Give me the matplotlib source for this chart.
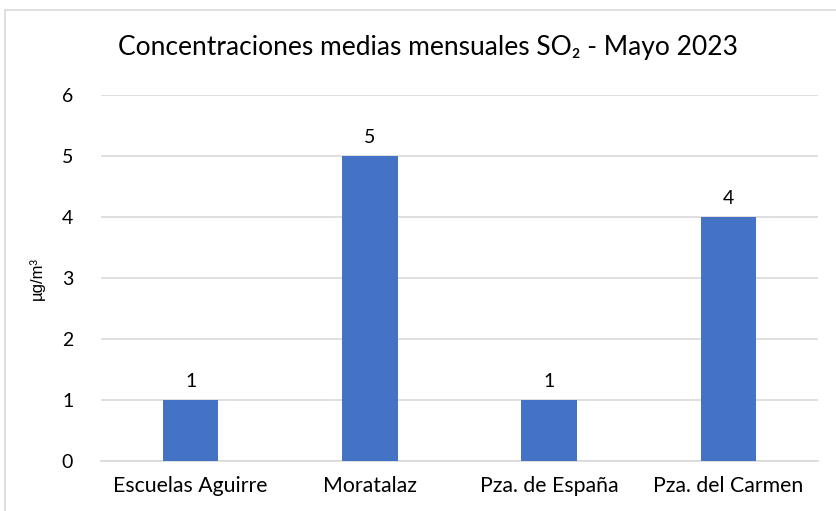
import matplotlib
matplotlib.use("Agg")
import matplotlib.pyplot as plt
from matplotlib.patches import Rectangle
import numpy as np

stations = ["Escuelas Aguirre", "Moratalaz", "Pza. de España", "Pza. del Carmen"]
so2_values = [1, 5, 1, 4]
y_ticks = [0, 1, 2, 3, 4, 5, 6]

BAR_COLOR = "#4472C4"
GRID_COLOR = "#D9D9D9"
TEXT_COLOR = "#000000"
FONT = ["Lato", "DejaVu Sans"]

fig = plt.figure(figsize=(8.36, 5.11), dpi=100)
fig.patch.set_facecolor("white")

# chart border (light gray frame, cut off at right/bottom)
fig.patches.append(Rectangle((5 / 836, -0.1), 1.2, (511 - 10) / 511 + 0.1,
                             transform=fig.transFigure, fill=False,
                             edgecolor=GRID_COLOR, linewidth=1.2))

ax = fig.add_axes([101 / 836, 50 / 511, 717 / 836, 366 / 511])
x = np.arange(len(stations))
bars = ax.bar(x, so2_values, width=0.31, color=BAR_COLOR, zorder=3)

ax.set_xlim(-0.5, len(stations) - 0.5)
ax.set_ylim(0, 6)
ax.set_yticks(y_ticks)
ax.set_yticklabels([str(t) for t in y_ticks], family=FONT, fontsize=14)
ax.set_xticks(x)
ax.set_xticklabels(stations, family=FONT, fontsize=15.3)
ax.tick_params(length=0, colors=TEXT_COLOR)
ax.tick_params(axis="y", pad=20)
ax.tick_params(axis="x", pad=11)

ax.yaxis.grid(True, color=GRID_COLOR, linewidth=1.2, zorder=0)
ax.set_axisbelow(True)
for s in ["top", "right", "left"]:
    ax.spines[s].set_visible(False)
ax.spines["bottom"].set_color(GRID_COLOR)
ax.spines["bottom"].set_linewidth(1.2)

for bar, v in zip(bars, so2_values):
    ax.text(bar.get_x() + bar.get_width() / 2, v + 0.17, f"{v}",
            ha="center", va="bottom", family=FONT, fontsize=14, color=TEXT_COLOR)

ax.set_ylabel("µg/m³", family=["Liberation Sans", "DejaVu Sans"], fontsize=12, labelpad=12)

fig.text(428 / 836, 1 - 48 / 511, "Concentraciones medias mensuales SO₂ - Mayo 2023",
         ha="center", va="center", family=FONT, fontsize=19, color=TEXT_COLOR)

fig.savefig("out.png", dpi=100)
